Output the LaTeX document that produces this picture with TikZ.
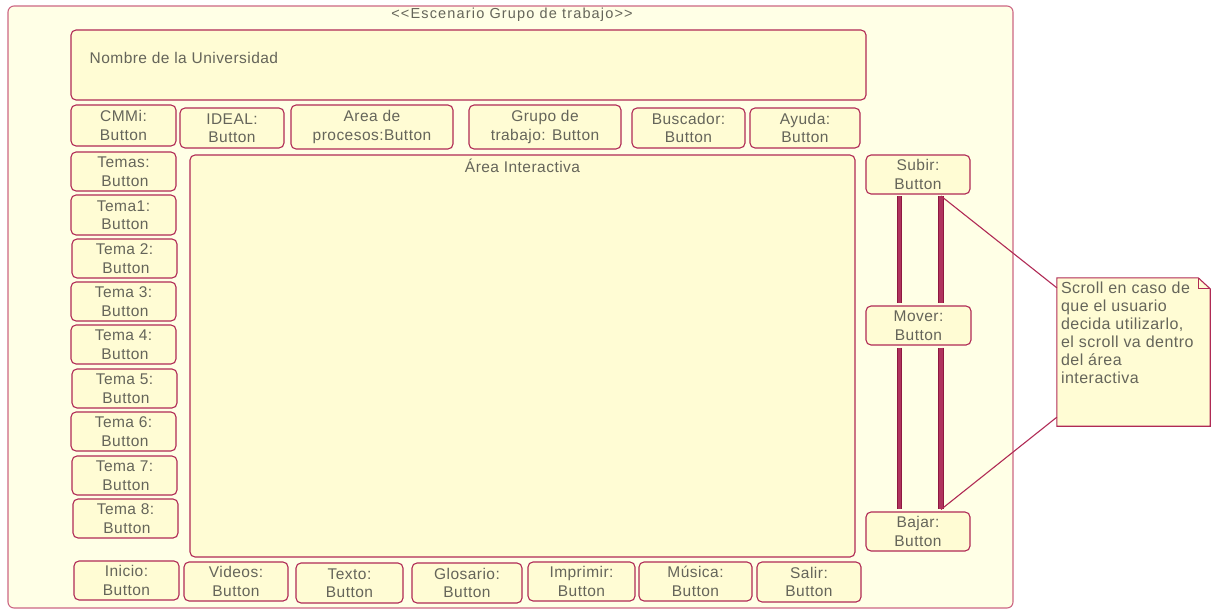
\documentclass[tikz,border=0pt]{standalone}
\usepackage{fontspec}
\setmainfont{Liberation Sans}[LetterSpace=3]
\newfontfamily\titlefont[LetterSpace=8]{Liberation Sans}
\usetikzlibrary{calc}

\definecolor{frameline}{HTML}{CC6683}
\definecolor{boxline}{HTML}{B02A55}
\definecolor{framefill}{HTML}{FFFFE6}
\definecolor{boxfill}{HTML}{FFFCD4}
\definecolor{labelgrey}{HTML}{65655A}
\definecolor{barfill}{HTML}{B0335E}
\definecolor{barline}{HTML}{8E1840}

\begin{document}
\begin{tikzpicture}[x=1pt,y=-1pt,
  btnfont/.style={font=\fontsize{15.5}{18.5}\selectfont},
  btn/.style 2 args={draw=boxline, line width=1.1pt, fill=boxfill,
    rounded corners=5pt, inner sep=0pt, align=center, text=labelgrey,
    btnfont, minimum width=#1, minimum height=#2},
  panel/.style 2 args={draw=boxline, line width=1.1pt, fill=boxfill,
    rounded corners=5pt, inner sep=0pt, minimum width=#1, minimum height=#2},
  label/.style={text=labelgrey, btnfont, inner sep=0pt},
  scrollbar/.style={draw=barline, line width=0.9pt, double=barfill, double distance=3.8pt},
  link/.style={draw=boxline, line width=1.1pt}
]
\useasboundingbox (0,0) rectangle (1217,610);

% outer frame of the screen
\node[draw=frameline, line width=1.1pt, fill=framefill, rounded corners=6pt,
      minimum width=1005pt, minimum height=602pt, inner sep=0pt] (frame) at (510.5,307) {};
\node[text=labelgrey, inner sep=0pt, font=\titlefont\fontsize{14.5}{16}\selectfont]
  (title) at (512,15) {\textless\textless Escenario Grupo de trabajo\textgreater\textgreater};

% header with the university name
\node[panel={795pt}{70pt}] (nombre) at (468.5,65) {};
\node[label, anchor=west] (nombretxt) at ([xshift=19pt,yshift=7pt]nombre.west) {Nombre de la Universidad};

% top menu
\node[btn={105pt}{41pt}] (cmmi) at (123.5,125.5) {CMMi:\\Button};
\node[btn={104pt}{40pt}] (ideal) at (232,128) {IDEAL:\\Button};
\node[btn={162pt}{44pt}] (procesos) at (372,127) {Area de\\procesos:Button};
\node[btn={152pt}{44pt}] (grupo) at (545,127) {Grupo de\\trabajo: Button};
\node[btn={113pt}{40pt}] (buscador) at (688.5,128) {Buscador:\\Button};
\node[btn={110pt}{40pt}] (ayuda) at (805,128) {Ayuda:\\Button};

% topic column
\node[btn={105pt}{39pt}] (temas) at (123.5,171.5) {Temas:\\\hspace*{3pt}Button};
\node[btn={105pt}{40pt}] (tema1) at (123.5,215) {Tema1:\\\hspace*{3pt}Button};
\node[btn={105pt}{39pt}] (tema2) at (124.5,258.5) {Tema 2:\\\hspace*{3pt}Button};
\node[btn={105pt}{39pt}] (tema3) at (123.5,301.5) {Tema 3:\\\hspace*{3pt}Button};
\node[btn={105pt}{39pt}] (tema4) at (123.5,344.5) {Tema 4:\\\hspace*{3pt}Button};
\node[btn={105pt}{39pt}] (tema5) at (124.5,388.5) {Tema 5:\\\hspace*{3pt}Button};
\node[btn={105pt}{39pt}] (tema6) at (123.5,431.5) {Tema 6:\\\hspace*{3pt}Button};
\node[btn={105pt}{39pt}] (tema7) at (124.5,475.5) {Tema 7:\\\hspace*{3pt}Button};
\node[btn={105pt}{39pt}] (tema8) at (125.5,518.5) {Tema 8:\\\hspace*{3pt}Button};

% interactive area
\node[panel={665pt}{402pt}] (interactiva) at (522.5,356) {};
\node[label, anchor=north] (interactivatxt) at ([yshift=-4pt]interactiva.north) {Área Interactiva};

% bottom menu
\node[btn={105pt}{39pt}] (inicio) at (126.5,580.5) {Inicio:\\Button};
\node[btn={104pt}{39pt}] (videos) at (236,581.5) {Videos:\\Button};
\node[btn={107pt}{40pt}] (texto) at (349.5,583) {Texto:\\Button};
\node[btn={110pt}{40pt}] (glosario) at (467,583) {Glosario:\\Button};
\node[btn={107pt}{39pt}] (imprimir) at (581.5,581.5) {Imprimir:\\Button};
\node[btn={113pt}{39pt}] (musica) at (695.5,581.5) {Música:\\Button};
\node[btn={104pt}{40pt}] (salir) at (809,582) {Salir:\\Button};

% scroll controls
\node[btn={104pt}{39pt}] (subir) at (918,174.5) {Subir:\\Button};
\node[btn={105pt}{39pt}] (mover) at (918.5,325.5) {Mover:\\Button};
\node[btn={104pt}{39pt}] (bajar) at (918,531.5) {Bajar:\\Button};

\coordinate (lbtop) at ([xshift=-18.5pt,yshift=-1.5pt]subir.south);
\coordinate (rbtop) at ([xshift=23pt,yshift=-1.5pt]subir.south);
\coordinate (lbmid1) at ([xshift=-19pt,yshift=2pt]mover.north);
\coordinate (rbmid1) at ([xshift=22.5pt,yshift=2pt]mover.north);
\coordinate (lbmid2) at ([xshift=-19pt,yshift=-2pt]mover.south);
\coordinate (rbmid2) at ([xshift=22.5pt,yshift=-2pt]mover.south);
\coordinate (lbbot) at ([xshift=-18.5pt,yshift=2pt]bajar.north);
\coordinate (rbbot) at ([xshift=23pt,yshift=2pt]bajar.north);

\draw[scrollbar] (lbtop) -- (lbmid1);
\draw[scrollbar] (rbtop) -- (rbmid1);
\draw[scrollbar] (lbmid2) -- (lbbot);
\draw[scrollbar] (rbmid2) -- (rbbot);

% note with folded corner
\node[minimum width=153pt, minimum height=148pt, inner sep=0pt] (note) at (1133.5,352) {};
\draw[draw=boxline, line width=1.1pt, fill=boxfill]
  (note.north west) -- ([xshift=-12pt]note.north east)
  -- ([yshift=-11pt]note.north east) -- (note.south east)
  -- (note.south west) -- cycle;
\draw[draw=boxline, line width=1pt]
  ([xshift=-12pt]note.north east) |- ([yshift=-11pt]note.north east);
\node[label, anchor=north west, align=left, font=\fontsize{16}{18}\selectfont]
  (notetxt) at ([xshift=4pt,yshift=-3.5pt]note.north west)
  {Scroll en caso de\\que el usuario\\decida utilizarlo,\\el scroll va dentro\\del área\\interactiva};

\draw[link] (rbtop) -- ([yshift=-10pt]note.north west);
\draw[link] (rbbot) -- ([yshift=9pt]note.south west);

\end{tikzpicture}
\end{document}
